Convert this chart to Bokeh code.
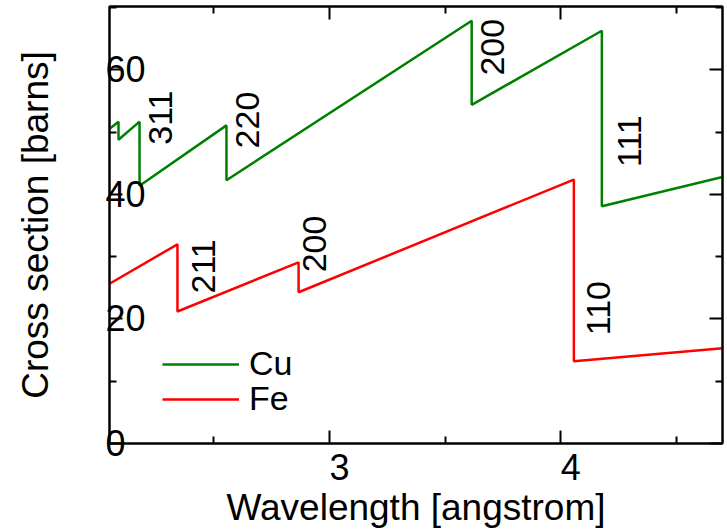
import numpy as np
from bokeh.plotting import figure
from bokeh.models import Range1d, FixedTicker, LinearAxis, Legend, LegendItem
from bokeh.core.properties import value
from bokeh.embed import file_html
from bokeh.resources import INLINE

FONT = "Liberation Sans"

# ---- data ----
cu_wavelength = [2.05, 2.087, 2.087, 2.178, 2.178, 2.554, 2.554, 3.615, 3.615, 4.178, 4.178, 4.70]
cu_sigma = [50.6, 51.7, 48.8, 51.7, 41.4, 51.1, 42.3, 67.9, 54.4, 66.3, 38.1, 42.8]
fe_wavelength = [2.05, 2.342, 2.342, 2.866, 2.866, 4.057, 4.057, 4.70]
fe_sigma = [25.7, 32.0, 21.2, 29.1, 24.3, 42.4, 13.2, 15.3]

cu_edge_labels = ["311", "220", "200", "111"]
cu_edge_x = [2.267, 2.643, 3.706, 4.299]
cu_edge_y = [48.0, 47.4, 59.1, 44.4]
fe_edge_labels = ["211", "200", "110"]
fe_edge_x = [2.453, 2.935, 4.165]
fe_edge_y = [24.1, 27.5, 17.4]

x_major = [3, 4]
x_minor = [2.5, 3.5, 4.5]
y_major = [0, 20, 40, 60]
y_minor = [10, 30, 50, 70]
y_tick_text = {0: "0\u2007", 20: "20", 40: "40", 60: "60"}
x_lim = (2.048, 4.70)
y_lim = (0, 70.2)

p = figure(width=727, height=531, output_backend="svg", toolbar_location=None,
           x_range=Range1d(*x_lim), y_range=Range1d(*y_lim),
           min_border_left=109, min_border_right=5, min_border_top=6, min_border_bottom=88,
           x_axis_label="Wavelength [angstrom]", y_axis_label="Cross section [barns]")
p.background_fill_color = "white"
p.border_fill_color = "white"
p.xgrid.visible = False
p.ygrid.visible = False
p.outline_line_color = "black"
p.outline_line_width = 2

xt = FixedTicker(ticks=x_major, minor_ticks=x_minor)
yt = FixedTicker(ticks=y_major, minor_ticks=y_minor)

def style_axis(ax):
    ax.axis_line_width = 2
    ax.axis_line_color = "black"
    ax.major_tick_in = 13
    ax.major_tick_out = 0
    ax.minor_tick_in = 7
    ax.minor_tick_out = 0
    ax.major_tick_line_width = 2
    ax.minor_tick_line_width = 2
    ax.major_tick_line_color = "black"
    ax.minor_tick_line_color = "black"

p.xaxis.ticker = xt
p.yaxis.ticker = yt
for ax in p.xaxis + p.yaxis:
    style_axis(ax)
    ax.major_label_text_font = FONT
    ax.major_label_text_font_size = "36px"
    ax.major_label_text_color = "black"
    ax.axis_label_text_font = FONT
    ax.axis_label_text_font_size = "37px"
    ax.axis_label_text_font_style = "normal"
    ax.axis_label_text_color = "black"

# x tick labels: left-aligned at the tick (tiny negative angle -> left anchor)
p.xaxis.major_label_orientation = -1e-4
p.xaxis.major_label_standoff = 23
p.xaxis.axis_label_standoff = -9
# y tick labels sit over the axis line
p.yaxis.major_label_overrides = y_tick_text
p.yaxis.major_label_standoff = -36
p.yaxis.axis_label_standoff = 46

top = LinearAxis(ticker=xt)
right = LinearAxis(ticker=yt)
for ax in (top, right):
    style_axis(ax)
    ax.major_label_text_color = None
    ax.major_label_text_font_size = "1px"
    ax.major_label_standoff = 0
p.add_layout(top, "above")
p.add_layout(right, "right")

r_cu = p.line(cu_wavelength, cu_sigma, line_color="green", line_width=2.5)
r_fe = p.line(fe_wavelength, fe_sigma, line_color="red", line_width=2.5)

p.text(x=cu_edge_x, y=cu_edge_y, text=cu_edge_labels, angle=np.pi / 2,
       text_align="left", text_baseline="middle", text_font=value(FONT),
       text_font_size="34px", text_color="black")
p.text(x=fe_edge_x, y=fe_edge_y, text=fe_edge_labels, angle=np.pi / 2,
       text_align="left", text_baseline="middle", text_font=value(FONT),
       text_font_size="34px", text_color="black")

def make_legend(label, renderer, loc):
    return Legend(items=[LegendItem(label=label, renderers=[renderer])],
                  location=loc, padding=0, margin=0, spacing=0,
                  glyph_width=77, label_standoff=10,
                  label_text_font=FONT, label_text_font_size="34px",
                  label_text_color="black",
                  border_line_color=None, background_fill_alpha=0)

p.add_layout(make_legend("Cu", r_cu, (53, 60)), "center")
p.add_layout(make_legend("Fe", r_fe, (53, 25)), "center")

open("out.html", "w").write(file_html(p, INLINE))
